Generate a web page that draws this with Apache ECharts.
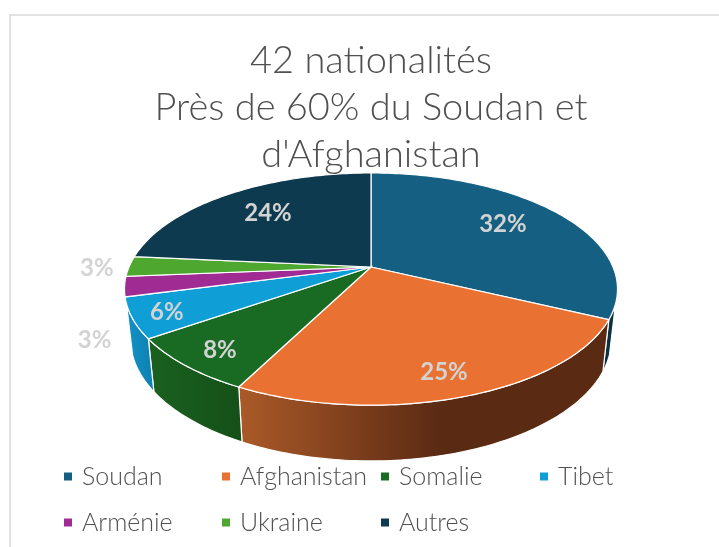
<!DOCTYPE html>
<html>
<head>
<meta charset="utf-8">
<style>
  html, body { margin: 0; padding: 0; background: #fff; }
  #chart { width: 719px; height: 547px; }
</style>
<script src="https://cdn.jsdelivr.net/npm/echarts@6/dist/echarts.min.js"></script>
</head>
<body>
<div id="chart"></div>
<script>
const categories = ['Soudan', 'Afghanistan', 'Somalie', 'Tibet', 'Arménie', 'Ukraine', 'Autres'];
const shares = [32.1, 25.4, 7.8, 5.6, 2.8, 2.8, 23.5];

const colors = ['#156082', '#E97132', '#196B24', '#0F9ED5', '#A02B93', '#4EA72E', '#0D3A4F'];
const wallColors = [
    ['#0B3040', '#0B3040'],
    ['#AB5A29', '#5A2A13'],
    ['#1A611F', '#155019'],
    ['#1293C8', '#0E7FAE'],
    ['#7A2070', '#7A2070'],
    ['#3B7F22', '#3B7F22'],
    ['#0A2C3B', '#0A2C3B']
];
// label placement: fraction of the disc radius, angle shift in degrees
const labelRadius = [0.72, 0.84, 0.85, 0.87, 1.17, 1.13, 0.71];
const labelShift = [-3, 1, -1, -1, -20, -1, 1];

const FONT = 'Lato';
// perspective disc, front of the pie is closer so it draws larger
const TOP_DISC = { cx: 371, cy: 267, a: 242, b: 111.9, k: 0.19 };
const BOTTOM_DISC = { cx: 371, cy: 316.5, a: 236, b: 117, k: 0.19 };
const WALL_FROM = 108, WALL_TO = 252;

const total = shares.reduce((a, b) => a + b, 0);

function project(disc, deg, r) {
    const t = deg * Math.PI / 180;
    const u = r * Math.sin(t), v = -r * Math.cos(t);
    const w = 1 - disc.k * v;
    return [disc.cx + disc.a * u / w, disc.cy + disc.b * v / w];
}

function arc(disc, from, to) {
    const pts = [];
    const steps = Math.max(2, Math.ceil(Math.abs(to - from)));
    for (let i = 0; i <= steps; i++) {
        pts.push(project(disc, from + (to - from) * i / steps, 1));
    }
    return pts;
}

function sliceItem(index) {
    return function (params, api) {
        const before = shares.slice(0, index).reduce((a, b) => a + b, 0);
        const from = before / total * 360;
        const to = from + api.value(0) / total * 360;
        const children = [];

        const wallFrom = Math.max(from, WALL_FROM), wallTo = Math.min(to, WALL_TO);
        if (wallTo > wallFrom) {
            children.push({
                type: 'polygon',
                z2: 1,
                shape: { points: arc(TOP_DISC, wallFrom, wallTo).concat(arc(BOTTOM_DISC, wallTo, wallFrom)) },
                style: {
                    fill: {
                        type: 'linear', x: 0, y: 0, x2: 1, y2: 0,
                        colorStops: [
                            { offset: 0, color: wallColors[index][0] },
                            { offset: index === 1 ? 0.55 : 1, color: wallColors[index][1] },
                            { offset: 1, color: wallColors[index][1] }
                        ]
                    },
                    stroke: '#fff', lineWidth: 1.2
                }
            });
        }

        children.push({
            type: 'polygon',
            z2: 2,
            shape: { points: [[TOP_DISC.cx, TOP_DISC.cy]].concat(arc(TOP_DISC, from, to)) },
            style: { fill: colors[index], stroke: '#fff', lineWidth: 1.2 }
        });

        const pos = project(TOP_DISC, (from + to) / 2 + labelShift[index], labelRadius[index]);
        children.push({
            type: 'text',
            z2: 3,
            x: pos[0],
            y: pos[1],
            style: {
                text: Math.round(api.value(0) / total * 100) + '%',
                fill: '#D3D3D3',
                font: 'bold 24px ' + FONT,
                align: 'center',
                verticalAlign: 'middle'
            }
        });
        return { type: 'group', children };
    };
}

function column(left, names) {
    return {
        data: names,
        orient: 'vertical',
        left: left,
        top: 464,
        padding: 0,
        icon: 'rect',
        itemWidth: 8,
        itemHeight: 8,
        itemGap: 21,
        selectedMode: false,
        textStyle: { fontFamily: FONT, fontWeight: 300, fontSize: 25, color: '#505050', padding: [0, 0, 0, 5] }
    };
}

const chart = echarts.init(document.getElementById('chart'), null, { renderer: 'canvas' });
chart.setOption({
    animation: false,
    backgroundColor: '#fff',
    title: {
        text: "42 nationalités\nPrès de 60% du Soudan et\nd'Afghanistan",
        left: 371,
        top: 37,
        padding: 0,
        textAlign: 'center',
        textStyle: { fontFamily: FONT, fontWeight: 300, fontSize: 38, lineHeight: 47, color: '#505050' }
    },
    legend: [
        column(64, [categories[0], categories[4]]),
        column(222, [categories[1], categories[5]]),
        column(381, [categories[2], categories[6]]),
        column(540, [categories[3]])
    ],
    graphic: [{
        type: 'polyline',
        silent: true,
        shape: { points: [[10, 547], [10, 15], [719, 15]] },
        style: { fill: null, stroke: '#D9D9D9', lineWidth: 1.5 }
    }],
    series: categories.map((name, i) => ({
        type: 'custom',
        name: name,
        coordinateSystem: 'none',
        silent: true,
        itemStyle: { color: colors[i] },
        data: [shares[i]],
        renderItem: sliceItem(i)
    }))
});
</script>
</body>
</html>
